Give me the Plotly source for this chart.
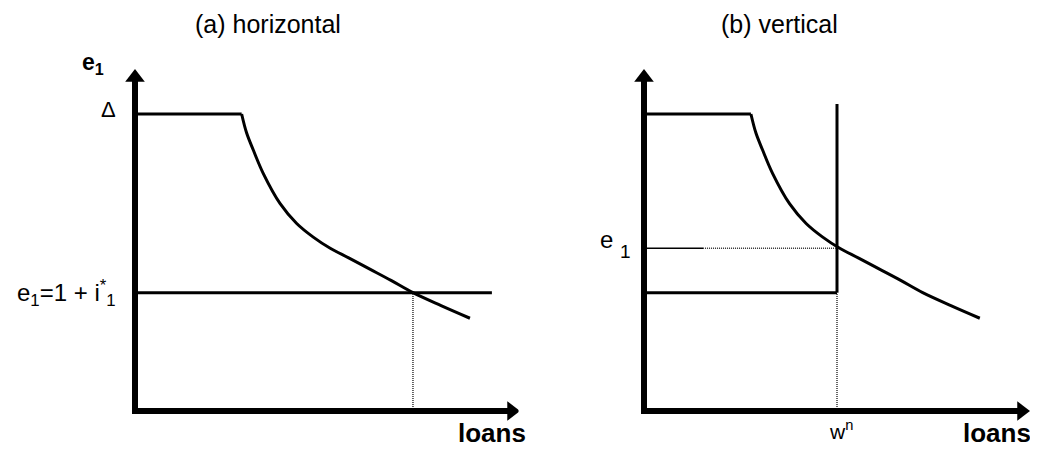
import plotly.graph_objects as go

# demand curve for loans (same shape in both panels), in chart units
delta = 8.71
kink_loans = 2.77
curve_loans = [2.77, 2.90, 3.07, 3.33, 3.77, 4.20, 4.63, 5.06, 5.55, 6.10, 6.65, 7.22, 7.95, 8.70]
curve_e1 = [8.71, 8.15, 7.66, 6.97, 6.08, 5.50, 5.10, 4.78, 4.49, 4.16, 3.83, 3.47, 3.09, 2.72]

# (a) horizontal supply
e1_star = 3.47
loans_star = 7.22
supply_end = 9.27

# (b) vertical supply
w_n = 5.0
supply_top = 9.0
e1_at_wn = 4.77
e1_solid_end = 1.53

axis_tip = 9.78
BLACK = "black"
FONT = "Arial, Liberation Sans, sans-serif"

# page body keeps its 8px margin, so the figure is drawn 8px in from the window edge
W, H = 1022, 439

fig = go.Figure()


def line(x, y, xa, ya, width=3, dash="solid", shape="linear", color=BLACK):
    fig.add_trace(go.Scatter(x=x, y=y, xaxis=xa, yaxis=ya, mode="lines",
                             line=dict(color=color, width=width, dash=dash, shape=shape),
                             hoverinfo="skip", showlegend=False))


def dotted(x, y, xa, ya):
    line(x, y, xa, ya, width=1.5, dash="1px,1px", color="#333333")


def axes(xa, ya):
    line([0, 0, axis_tip], [axis_tip, 0, 0], xa, ya, width=6)
    fig.add_trace(go.Scatter(x=[0, axis_tip], y=[axis_tip, 0], xaxis=xa, yaxis=ya, mode="markers",
                             marker=dict(symbol=["triangle-up", "triangle-right"], size=17, color=BLACK),
                             hoverinfo="skip", showlegend=False))


for xa, ya in (("x", "y"), ("x2", "y2")):
    line([0, kink_loans], [delta, delta], xa, ya)
    line(curve_loans, curve_e1, xa, ya, shape="spline")

# panel (a)
line([0, supply_end], [e1_star, e1_star], "x", "y")
dotted([loans_star, loans_star], [0, e1_star], "x", "y")
axes("x", "y")

# panel (b)
line([w_n, w_n], [e1_star, supply_top], "x2", "y2")
line([0, w_n], [e1_star, e1_star], "x2", "y2")
dotted([w_n, w_n], [0, e1_star], "x2", "y2")
line([0, e1_solid_end], [e1_at_wn, e1_at_wn], "x2", "y2", width=1.5)
dotted([e1_solid_end, w_n], [e1_at_wn, e1_at_wn], "x2", "y2")
axes("x2", "y2")


def label(text, x, y, xref, yref, size=20, bold=False, xanchor="center", yanchor="middle"):
    if bold:
        text = "<b>" + text + "</b>"
    fig.add_annotation(text=text, x=x, y=y, xref=xref, yref=yref, showarrow=False,
                       xanchor=xanchor, yanchor=yanchor,
                       font=dict(family=FONT, size=size, color=BLACK))


label("(a) horizontal", 0.2544, 1.0, "paper", "paper", size=25, yanchor="top")
label("(b) vertical", 0.755, 1.0, "paper", "paper", size=25, yanchor="top")

label("e<sub>1</sub>", -1.09, 10.2, "x", "y", size=23, bold=True)
label("\u0394", -0.70, 8.83, "x", "y", size=22)
label("e<sub>1</sub>=1 + i<sup>*</sup><sub>1</sub>", -0.44, e1_star, "x", "y", size=24, xanchor="right")
label("loans", 9.27, -0.65, "x", "y", size=26, bold=True)

label("e", -0.96, 5.04, "x2", "y2", size=24)
label("1", -0.49, 4.69, "x2", "y2", size=19)
label("w<sup>n</sup>", w_n + 0.1, -1.0, "x2", "y2", size=21, yanchor="bottom")
label("loans", 9.15, -0.65, "x2", "y2", size=26, bold=True)


def x_domain(origin, scale, lo, hi):
    return [max(0.0, (origin + scale * lo) / W), min(1.0, (origin + scale * hi) / W)]


def y_domain(origin, scale, lo, hi):
    return [max(0.0, (H - origin + scale * lo) / H), min(1.0, (H - origin + scale * hi) / H)]


x_lo, y_lo, y_hi = -3.25, -1.0, 11.0
fig.update_layout(
    width=W, height=H,
    margin=dict(l=0, r=0, t=0, b=0),
    paper_bgcolor="white", plot_bgcolor="white",
    xaxis=dict(domain=x_domain(127, 38.5, x_lo, 10.3), range=[x_lo, 10.3], anchor="y", visible=False),
    yaxis=dict(domain=y_domain(403, 34.1, y_lo, y_hi), range=[y_lo, y_hi], anchor="x", visible=False),
    xaxis2=dict(domain=x_domain(636, 38.6, x_lo, 10.0), range=[x_lo, 10.0], anchor="y2", visible=False),
    yaxis2=dict(domain=y_domain(403, 34.1, y_lo, y_hi), range=[y_lo, y_hi], anchor="x2", visible=False),
)
fig.update_traces(cliponaxis=False)

fig.write_html("out.html")
